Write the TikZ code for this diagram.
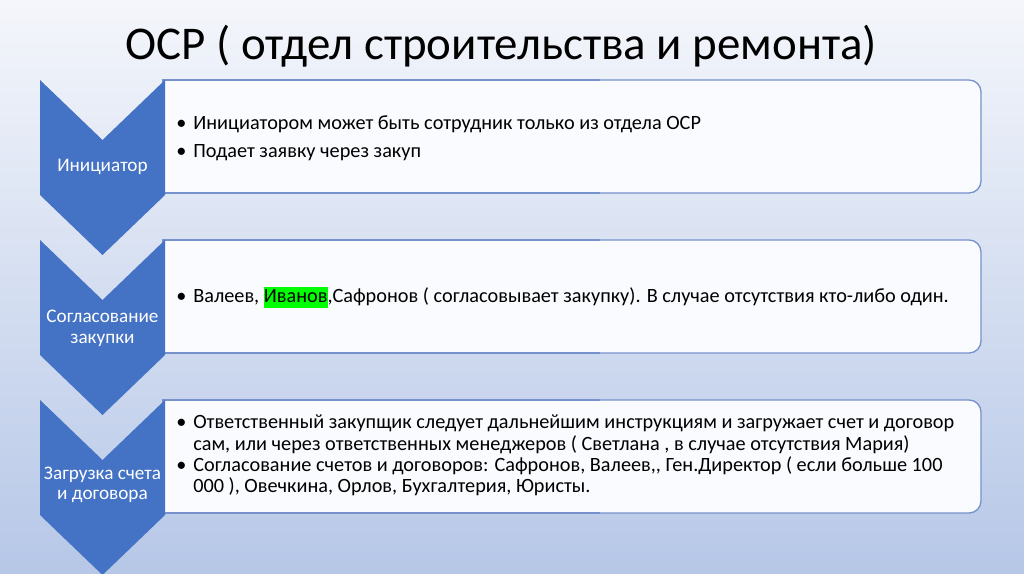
\documentclass[tikz,border=0pt]{standalone}
\usepackage{fontspec}
\setmainfont{Carlito}
\usepackage{xcolor}
\usetikzlibrary{positioning}

\definecolor{bgtop}{RGB}{244,246,251}
\definecolor{bgbottom}{RGB}{182,199,231}
\definecolor{chevblue}{RGB}{68,114,196}
\definecolor{slotline}{RGB}{118,145,204}
\definecolor{slotfill}{RGB}{250,251,254}

\tikzset{
    slot/.style={draw=slotline, fill=slotfill, line width=1pt},
    chevron/.style={fill=chevblue},
    steplabel/.style={text=white, align=center, font=\fontsize{14.4}{15.5}\selectfont},
    item/.style={anchor=base west, inner sep=0pt, font=\fontsize{15.2}{16}\selectfont},
    bul/.style={anchor=base west, inner sep=0pt, font=\fontsize{15.2}{16}\selectfont},
}

\begin{document}
\begin{tikzpicture}[x=0.75pt, y=-0.75pt]
    \useasboundingbox (0,0) rectangle (1024,574);
    \shade[top color=bgtop, bottom color=bgbottom] (0,0) rectangle (1024,574);

    \node[anchor=base west, inner sep=0pt, font=\fontsize{35.2}{38}\selectfont] (title) at (125,60) {ОСР ( отдел строительства и ремонта)};

    % slots
    \draw[slot, rounded corners=9pt] (163,80) rectangle (981,193);
    \filldraw[slot] (600,80) -- (163,80) -- (163,193) -- (600,193);
    \draw[slot, rounded corners=9pt] (163,240) rectangle (981,353);
    \filldraw[slot] (600,240) -- (163,240) -- (163,353) -- (600,353);
    \draw[slot, rounded corners=9pt] (163,400) rectangle (981,513);
    \filldraw[slot] (600,400) -- (163,400) -- (163,513) -- (600,513);

    % chevrons
    \fill[chevron] (40,80) -- (102.5,140) -- (165,80) -- (165,195) -- (102.5,255) -- (40,195) -- cycle;
    \fill[chevron] (40,240) -- (102.5,300) -- (165,240) -- (165,355) -- (102.5,415) -- (40,355) -- cycle;
    \fill[chevron] (40,400) -- (102.5,460) -- (165,400) -- (165,515) -- (102.5,575) -- (40,515) -- cycle;

    \node[steplabel] (ini) at (102.5,167) {Инициатор};
    \node[steplabel] (sogl) at (102.5,328) {Согласование\\закупки};
    \node[steplabel] (zagr) at (102.5,485) {Загрузка счета\\и договора};

    % slot 1
    \node[item] (a1) at (193,130) {Инициатором может быть сотрудник только из отдела ОСР};
    \node[bul] at (176,130) {•};
    \node[item] (a2) at (193,157) {Подает заявку через закуп};
    \node[bul] at (176,157) {•};

    % slot 2
    \node[item] (b1) at (193,302) {Валеев, {\fboxsep=0pt\colorbox{green}{\strut Иванов}},Сафронов ( согласовывает закупку). В случае отсутствия кто-либо один.};
    \node[bul] at (176,302) {•};

    % slot 3
    \node[item] (c1) at (193,428) {Ответственный закупщик следует дальнейшим инструкциям и загружает счет и договор};
    \node[bul] at (176,428) {•};
    \node[item] (c2) at (193,450) {сам, или через ответственных менеджеров ( Светлана , в случае отсутствия Мария)};
    \node[item] (c3) at (193,471) {Согласование счетов и договоров: Сафронов, Валеев,\kern0pt, Ген.Директор ( если больше 100};
    \node[bul] at (176,471) {•};
    \node[item] (c4) at (193,492) {000 ), Овечкина, Орлов, Бухгалтерия, Юристы.};
\end{tikzpicture}
\end{document}
